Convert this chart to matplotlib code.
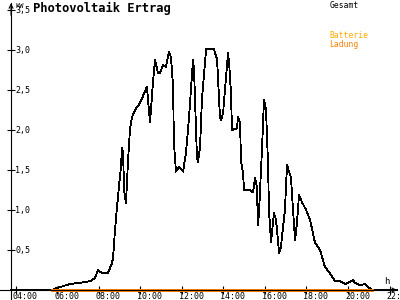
import matplotlib
matplotlib.use("Agg")
import matplotlib.pyplot as plt
from matplotlib.transforms import offset_copy

plt.rcParams['font.family'] = ['DejaVu Sans Mono']

# Gesamt (kW) over time of day (h)
zeit = [3.76, 5.73, 5.98, 6.60, 7.08, 7.57, 7.81, 7.95, 8.15, 8.43, 8.63, 8.68,
        8.77, 8.87, 8.96, 9.06, 9.11, 9.16, 9.21, 9.30, 9.40, 9.49, 9.59, 9.74,
        9.98, 10.31, 10.36, 10.46, 10.60, 10.70, 10.84, 10.94, 11.08, 11.23,
        11.37, 11.47, 11.57, 11.61, 11.71, 11.86, 12.05, 12.19, 12.34, 12.53,
        12.58, 12.72, 12.77, 12.87, 12.96, 13.16, 13.54, 13.69, 13.83, 13.88,
        13.98, 14.12, 14.22, 14.27, 14.36, 14.41, 14.65, 14.70, 14.80, 14.84,
        14.94, 14.99, 15.13, 15.28, 15.42, 15.52, 15.61, 15.66, 15.71, 15.86,
        15.95, 16.05, 16.15, 16.19, 16.29, 16.34, 16.43, 16.53, 16.68, 16.77,
        16.87, 16.96, 17.06, 17.11, 17.25, 17.35, 17.45, 17.54, 17.64, 17.78,
        17.98, 18.17, 18.41, 18.65, 18.89, 19.13, 19.37, 19.61, 19.86, 20.00,
        20.24, 20.34, 20.58, 20.82, 20.96, 21.16, 22.36]
gesamt = [0, 0, 0.025, 0.075, 0.09, 0.11, 0.15, 0.25, 0.21, 0.21, 0.34, 0.41,
          0.75, 1.04, 1.29, 1.54, 1.78, 1.72, 1.25, 1.09, 1.62, 2.0, 2.16, 2.25,
          2.34, 2.54, 2.38, 2.1, 2.59, 2.88, 2.71, 2.71, 2.81, 2.79,
          2.98, 2.91, 2.54, 1.84, 1.48, 1.54, 1.48, 1.71, 2.16, 2.88,
          2.75, 1.66, 1.6, 1.79, 2.38, 3.01, 3.01, 2.88, 2.16, 2.12,
          2.21, 2.66, 2.96, 2.84, 2.46, 2.0, 2.02, 2.16, 2.09, 1.62,
          1.46, 1.25, 1.25, 1.25, 1.22, 1.4, 1.29, 0.81, 0.96, 1.79,
          2.38, 2.25, 1.54, 1.0, 0.6, 0.72, 0.96, 0.88, 0.46, 0.54,
          0.79, 1.0, 1.56, 1.52, 1.41, 1.0, 0.62, 0.84, 1.19, 1.1,
          1.0, 0.88, 0.59, 0.5, 0.29, 0.21, 0.11, 0.11, 0.075, 0.09,
          0.125, 0.09, 0.06, 0.075, 0.04, 0, 0]

# Batterie Ladung
batt_zeit = [5.73, 21.16]
batt_kw = [0, 0]

x_ticks = [4, 6, 8, 10, 12, 14, 16, 18, 20, 22]
x_labels = ["04:00", "06:00", "08:00", "10:00", "12:00", "14:00", "16:00",
            "18:00", "20:00", "22:00"]
y_ticks = [0.5, 1.0, 1.5, 2.0, 2.5, 3.0, 3.5]
y_labels = ["0,5", "1,0", "1,5", "2,0", "2,5", "3,0", "3,5"]

fig = plt.figure(figsize=(4, 3), dpi=100)
ax = fig.add_axes([0, 0, 1, 1])
ax.set_xlim(3.229, 22.506)
ax.set_ylim(-0.125, 3.625)

x0 = 3.76  # where the y axis sits
for s in ['top', 'right']:
    ax.spines[s].set_visible(False)
ax.spines['left'].set_position(('data', x0))
ax.spines['bottom'].set_position(('data', 0))
ax.spines['left'].set_bounds(-0.125, 3.59)
ax.spines['bottom'].set_bounds(3.229, 22.36)
ax.spines['left'].set_linewidth(0.8)
ax.spines['bottom'].set_linewidth(0.8)
ax.set_xticks(x_ticks)
ax.set_yticks(y_ticks)
ax.tick_params(direction='inout', length=6, width=0.8,
               labelleft=False, labelbottom=False)

# axis arrows
ax.annotate('', xy=(x0, 3.62), xytext=(x0, 3.4),
            arrowprops=dict(arrowstyle='->', lw=0.8, mutation_scale=7))
ax.annotate('', xy=(22.5, 0), xytext=(22.2, 0),
            arrowprops=dict(arrowstyle='->', lw=0.8, mutation_scale=7))

ax.plot(zeit, gesamt, color='black', lw=0.6, antialiased=False)
ax.plot(batt_zeit, batt_kw, color='#ff8000', lw=0.8, antialiased=False)

# tick labels
ytr = offset_copy(ax.transData, fig, x=4, y=0, units='dots')
for v, lab in zip(y_ticks, y_labels):
    ax.text(x0, v, lab, transform=ytr, fontsize=6, ha='left', va='center')
xtr = offset_copy(ax.transData, fig, x=-3, y=-2, units='dots')
for v, lab in zip(x_ticks, x_labels):
    ax.text(v, 0, lab, transform=xtr, fontsize=6, ha='left', va='top')

ax.text(0.038, 0.99, "KW", transform=ax.transAxes, fontsize=5, va='top')
ax.text(0.961, 0.06, "h", transform=ax.transAxes, fontsize=6.5, va='center')
ax.text(0.083, 0.973, "Photovoltaik Ertrag", transform=ax.transAxes,
        fontsize=8.7, fontweight='bold', va='center')
ax.text(0.823, 0.983, "Gesamt", transform=ax.transAxes, fontsize=5.8, va='center')
ax.text(0.823, 0.88, "Batterie", transform=ax.transAxes, fontsize=5.8,
        va='center', color='#ffaa00')
ax.text(0.823, 0.853, "Ladung", transform=ax.transAxes, fontsize=5.8,
        va='center', color='#ff8000')

fig.savefig("out.png", dpi=100)
